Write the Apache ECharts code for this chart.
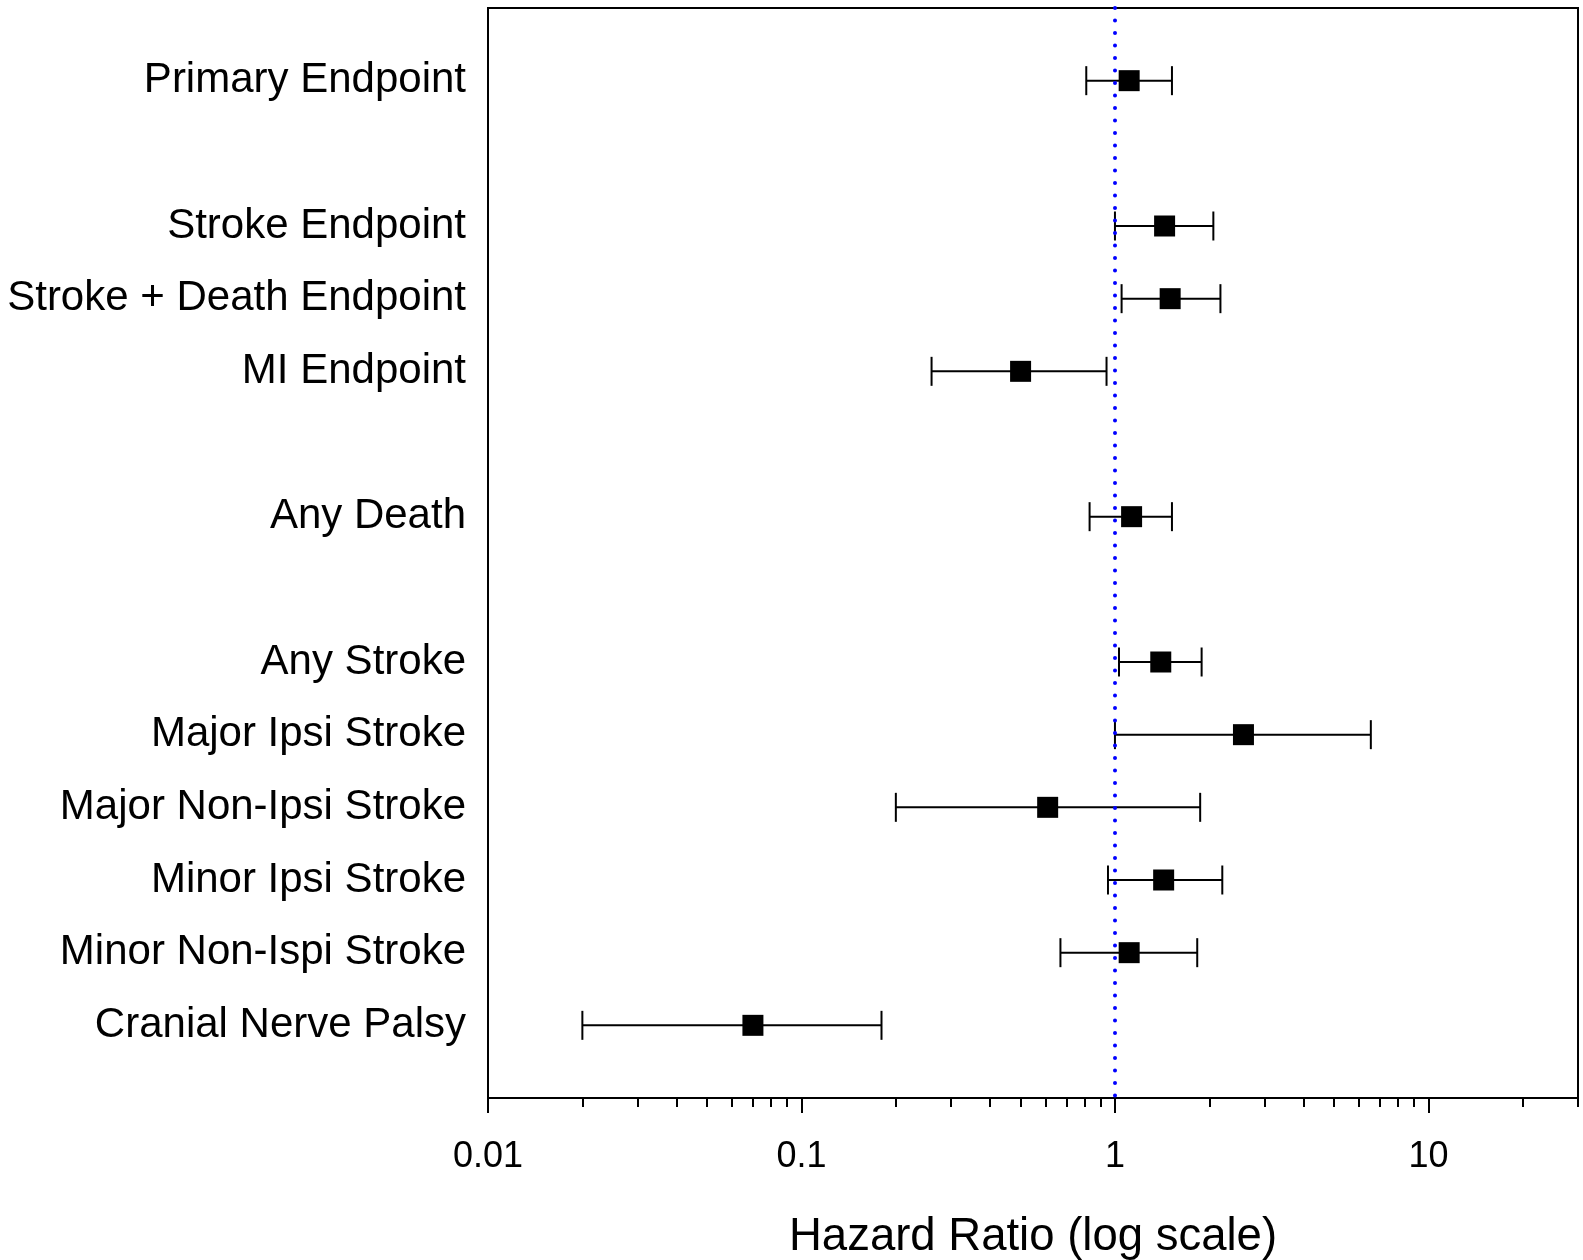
<!DOCTYPE html>
<html>
<head>
<meta charset="utf-8">
<script src="https://cdn.jsdelivr.net/npm/echarts@6/dist/echarts.min.js"></script>
<style>
  html, body { margin: 0; padding: 0; background: #fff; }
  #chart { width: 1583px; height: 1260px; }
</style>
</head>
<body>
<div id="chart"></div>
<script>
// rows from top, '' = blank spacer row
const rowLabels = ['Primary Endpoint', '', 'Stroke Endpoint', 'Stroke + Death Endpoint', 'MI Endpoint', '',
  'Any Death', '', 'Any Stroke', 'Major Ipsi Stroke', 'Major Non-Ipsi Stroke', 'Minor Ipsi Stroke',
  'Minor Non-Ispi Stroke', 'Cranial Nerve Palsy']
// hazard ratios + 95% CI (null on spacer rows)
const hr    = [1.11, null, 1.44, 1.50, 0.50, null, 1.13, null, 1.40, 2.57, 0.61, 1.43, 1.11, 0.07]
const lower = [0.81, null, 1.00, 1.05, 0.26, null, 0.83, null, 1.03, 1.00, 0.20, 0.95, 0.67, 0.02]
const upper = [1.52, null, 2.06, 2.17, 0.94, null, 1.52, null, 1.89, 6.55, 1.87, 2.20, 1.83, 0.18]
const majorTicks = [0.01, 0.1, 1, 10]
const minorTicks = [0.02, 0.03, 0.04, 0.05, 0.06, 0.07, 0.08, 0.09,
  0.2, 0.3, 0.4, 0.5, 0.6, 0.7, 0.8, 0.9,
  2, 3, 4, 5, 6, 7, 8, 9, 20, 30]
const refLine = 1

let font = '"Liberation Sans", Arial, sans-serif'

let points = [], bars = []
hr.forEach(function (v, i) {
    if (v == null) return
    points.push([v, i])
    bars.push([lower[i], upper[i], i])
})

let myChart = echarts.init(document.getElementById('chart'))
let option = {
    animation: false,
    grid: {
        left: 488, right: 5, top: 8, bottom: 162,
        outerBoundsMode: 'none',
        show: true,
        borderColor: '#000',
        borderWidth: 2
    },
    xAxis: [{
        type: 'log',
        logBase: 10,
        min: 0.01,
        max: 30,
        name: 'Hazard Ratio (log scale)',
        nameLocation: 'middle',
        nameGap: 116,
        nameTextStyle: { color: '#000', fontSize: 45.5, fontFamily: font },
        axisLine: { show: true, onZero: false, lineStyle: { color: '#000', width: 2 } },
        axisTick: { show: true, length: 15, customValues: majorTicks, lineStyle: { color: '#000', width: 2 } },
        axisLabel: {
            color: '#000', fontSize: 36, fontFamily: font, margin: 41,
            customValues: majorTicks,
            formatter: function (v) { return String(v) }
        },
        splitLine: { show: false }
    }, {
        // second copy of the axis only for the 2..9 minor ticks
        type: 'log',
        logBase: 10,
        min: 0.01,
        max: 30,
        position: 'bottom',
        axisLine: { show: false, onZero: false },
        axisTick: { show: true, length: 9, customValues: minorTicks, lineStyle: { color: '#000', width: 2 } },
        axisLabel: { show: false },
        splitLine: { show: false }
    }],
    yAxis: {
        type: 'value',
        min: -1,
        max: 14,
        interval: 1,
        inverse: true,
        axisLine: { show: true, onZero: false, lineStyle: { color: '#000', width: 2 } },
        axisTick: { show: false },
        splitLine: { show: false },
        axisLabel: {
            color: '#000', fontSize: 42, fontFamily: font, margin: 22,
            formatter: function (v) { return rowLabels[v] || '' }
        }
    },
    series: [{
        // 95% CI whiskers
        type: 'custom',
        data: bars,
        renderItem: function (params, api) {
            let lo = api.coord([api.value(0), api.value(2)])
            let hi = api.coord([api.value(1), api.value(2)])
            let h = 14.5
            let st = { stroke: '#000', lineWidth: 2 }
            return {
                type: 'group',
                children: [
                    { type: 'line', shape: { x1: lo[0], y1: lo[1], x2: hi[0], y2: hi[1] }, style: st },
                    { type: 'line', shape: { x1: lo[0], y1: lo[1] - h, x2: lo[0], y2: lo[1] + h }, style: st },
                    { type: 'line', shape: { x1: hi[0], y1: hi[1] - h, x2: hi[0], y2: hi[1] + h }, style: st }
                ]
            }
        },
        z: 2
    }, {
        type: 'scatter',
        data: points,
        symbol: 'rect',
        symbolSize: 21,
        itemStyle: { color: '#000', opacity: 1 },
        z: 4,
        markLine: {
            silent: true,
            symbol: 'none',
            label: { show: false },
            lineStyle: { color: '#0000ff', width: 4, type: [0.1, 12.4], cap: 'round' },
            data: [{ xAxis: refLine }],
            z: 3
        }
    }]
}
myChart.setOption(option)
</script>
</body>
</html>
